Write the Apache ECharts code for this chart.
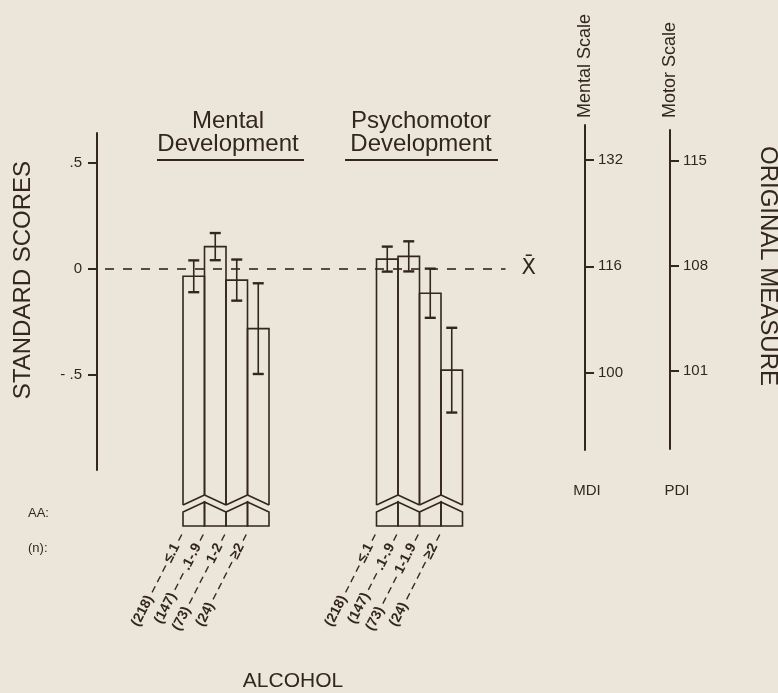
<!DOCTYPE html>
<html><head><meta charset="utf-8">
<script src="https://cdn.jsdelivr.net/npm/echarts@6/dist/echarts.min.js"></script>
<style>html,body{margin:0;padding:0;background:#ece6da}#chart{width:778px;height:693px}</style>
</head><body><div id="chart"></div>
<script>
// Daily absolute alcohol (AA) levels and group sizes
const mentalLevels = ['≤.1', '.1-.9', '1-2', '≥2'];
const psychLevels = ['≤.1', '.1-.9', '1-1.9', '≥2'];
const groupN = [218, 147, 73, 24];
// Standard-score means and error half-widths per AA level
const mentalMean = [-0.036, 0.104, -0.054, -0.283];
const mentalErr = [0.075, 0.064, 0.097, 0.214];
const psychMean = [0.045, 0.058, -0.116, -0.479];
const psychErr = [0.059, 0.071, 0.116, 0.2];
// Tick values of the three scales
const stdTicks = [-0.5, 0, 0.5];
const mdiTicks = [100, 116, 132];
const pdiTicks = [101, 108, 115];

const ink = '#33261f';
const font = 'Liberation Sans';

// category slots: lead gap, mental bars, gap, psychomotor bars, trailing gap
const LEAD = 4, GAP = 5, TRAIL = 2;
const blank = k => Array(k).fill('');
// leader dashes between group size and AA level
const lbl = (lv, i) => {
  const k = (lv.length > 3 ? 2 : 3) + (groupN[i] < 100 ? 1 : 0);
  return `(${groupN[i]}) ${'– '.repeat(k)}${lv} –`;
};
const xCats = [...blank(LEAD), ...mentalLevels.map(lbl), ...blank(GAP), ...psychLevels.map(lbl), ...blank(TRAIL)];
const psychStart = LEAD + mentalLevels.length + GAP;
const barData = [
  ...mentalMean.map((m, i) => [LEAD + i, m, mentalErr[i], i]),
  ...psychMean.map((m, i) => [psychStart + i, m, psychErr[i], i])
];

const fmtStd = v => v === 0 ? '0' : (v > 0 ? '.5' : '- .5');
const LABEL_ROT = 63 * Math.PI / 180;

function renderBar(params, api) {
  const ci = api.value(0), m = api.value(1), e = api.value(2), j = api.value(3);
  const c = api.coord([ci, m]);
  const w = api.size([1, 0])[0];
  const x0 = c[0] - w / 2, x1 = c[0] + w / 2, cx = c[0];
  const top = c[1];
  const hi = api.coord([ci, m + e])[1], lo = api.coord([ci, m - e])[1];
  const base = params.coordSys.y + params.coordSys.height;
  const rising = j % 2 === 0;
  const yL1 = base + (rising ? 35 : 25), yR1 = base + (rising ? 25 : 35);
  const yL2 = base + (rising ? 42 : 32), yR2 = base + (rising ? 32 : 42);
  const yB = base + 56;
  const st = { stroke: ink, lineWidth: 1.6, fill: null };
  const cap = 5.5;
  return {
    type: 'group',
    children: [
      { type: 'polyline', shape: { points: [[x0, yL1], [x0, top], [x1, top], [x1, yR1]] }, style: st },
      { type: 'line', shape: { x1: x0, y1: yL1, x2: x1, y2: yR1 }, style: st },
      { type: 'polygon', shape: { points: [[x0, yL2], [x1, yR2], [x1, yB], [x0, yB]] }, style: st },
      { type: 'line', shape: { x1: cx, y1: hi, x2: cx, y2: lo }, style: { stroke: ink, lineWidth: 1.6 } },
      { type: 'line', shape: { x1: cx - cap, y1: hi, x2: cx + cap, y2: hi }, style: { stroke: ink, lineWidth: 2.4 } },
      { type: 'line', shape: { x1: cx - cap, y1: lo, x2: cx + cap, y2: lo }, style: { stroke: ink, lineWidth: 2.4 } },
      // slanted category label below the bar
      { type: 'text', x: cx - 12, y: yB + 8, rotation: LABEL_ROT,
        style: { text: xCats[ci], align: 'right', verticalAlign: 'middle', fill: ink,
                 fontSize: 14, fontWeight: 'bold', fontFamily: font } }
    ]
  };
}

const chart = echarts.init(document.getElementById('chart'), null, { renderer: 'canvas' });
const hiddenAxis = { axisLine: { show: false }, axisTick: { show: false }, splitLine: { show: false } };
const scaleAxis = (grid, min, max, ticks, name, gap) => ({
  gridIndex: grid, type: 'value', min, max, position: 'left',
  axisLine: { show: true, lineStyle: { color: ink, width: 2 } },
  axisTick: { show: true, inside: true, length: 9, customValues: ticks, lineStyle: { color: ink, width: 2 } },
  axisLabel: { show: true, inside: true, margin: 13, customValues: ticks, fontSize: 15, color: ink, fontFamily: font },
  splitLine: { show: false },
  name, nameLocation: 'end', nameRotate: 90, nameGap: gap,
  nameTextStyle: { fontSize: 18, color: ink, fontFamily: font }
});

chart.setOption({
  backgroundColor: '#ece6da',
  animation: false,
  textStyle: { fontFamily: font, color: ink },
  grid: [
    { left: 97, top: 133, width: 408.5, height: 337, outerBoundsMode: 'none' },
    { left: 585, top: 125, width: 4, height: 325, outerBoundsMode: 'none' },
    { left: 670, top: 130, width: 14, height: 319, outerBoundsMode: 'none' }
  ],
  xAxis: [
    { gridIndex: 0, type: 'category', data: xCats, ...hiddenAxis, axisLabel: { show: false } },
    { gridIndex: 1, type: 'category', data: ['MDI'], ...hiddenAxis,
      axisLabel: { margin: 33, fontSize: 15, color: ink, fontFamily: font } },
    { gridIndex: 2, type: 'category', data: ['PDI'], ...hiddenAxis,
      axisLabel: { margin: 34, fontSize: 15, color: ink, fontFamily: font } }
  ],
  yAxis: [
    { gridIndex: 0, type: 'value', min: -0.95, max: 0.64,
      axisLine: { show: true, lineStyle: { color: ink, width: 2 } },
      axisTick: { show: true, length: 9, customValues: stdTicks, lineStyle: { color: ink, width: 2 } },
      axisLabel: { customValues: stdTicks, formatter: fmtStd, margin: 15, fontSize: 15, color: ink, fontFamily: font },
      splitLine: { show: false } },
    scaleAxis(1, 88.38, 137.26, mdiTicks, 'Mental Scale', 7),
    scaleAxis(2, 95.77, 117.07, pdiTicks, 'Motor Scale', 12)
  ],
  series: [{
    type: 'custom',
    xAxisIndex: 0, yAxisIndex: 0,
    clip: false,
    renderItem: renderBar,
    encode: { x: 0, y: 1 },
    data: barData,
    markLine: {
      silent: true,
      symbol: ['none', 'none'],
      lineStyle: { color: ink, width: 1.6, type: [9, 9], dashOffset: -8 },
      label: { show: true, position: 'end', distance: 16, formatter: 'X\u0304', fontSize: 21, color: ink, fontFamily: 'DejaVu Sans' },
      data: [{ yAxis: 0 }]
    }
  }],
  graphic: [
    { type: 'text', x: 23, y: 280, rotation: Math.PI / 2,
      style: { text: 'STANDARD SCORES', fontSize: 24, fontFamily: font, fill: ink, align: 'center', verticalAlign: 'middle' } },
    { type: 'text', x: 768, y: 266, rotation: -Math.PI / 2,
      style: { text: 'ORIGINAL MEASURE', fontSize: 24, fontFamily: font, fill: ink, align: 'center', verticalAlign: 'middle' } },
    { type: 'text', x: 228, y: 133,
      style: { text: 'Mental\nDevelopment', fontSize: 24, lineHeight: 23, fontFamily: font, fill: ink, align: 'center', verticalAlign: 'middle' } },
    { type: 'line', shape: { x1: 157, y1: 160, x2: 304, y2: 160 }, style: { stroke: ink, lineWidth: 2 } },
    { type: 'text', x: 421, y: 133,
      style: { text: 'Psychomotor\nDevelopment', fontSize: 24, lineHeight: 23, fontFamily: font, fill: ink, align: 'center', verticalAlign: 'middle' } },
    { type: 'line', shape: { x1: 345, y1: 160, x2: 498, y2: 160 }, style: { stroke: ink, lineWidth: 2 } },
    { type: 'text', x: 28, y: 513,
      style: { text: 'AA:', fontSize: 13, fontFamily: font, fill: ink, align: 'left', verticalAlign: 'middle' } },
    { type: 'text', x: 28, y: 548,
      style: { text: '(n):', fontSize: 13, fontFamily: font, fill: ink, align: 'left', verticalAlign: 'middle' } },
    { type: 'text', x: 293, y: 681,
      style: { text: 'ALCOHOL', fontSize: 21, fontFamily: font, fill: ink, align: 'center', verticalAlign: 'middle' } }
  ]
});
</script>
</body></html>
